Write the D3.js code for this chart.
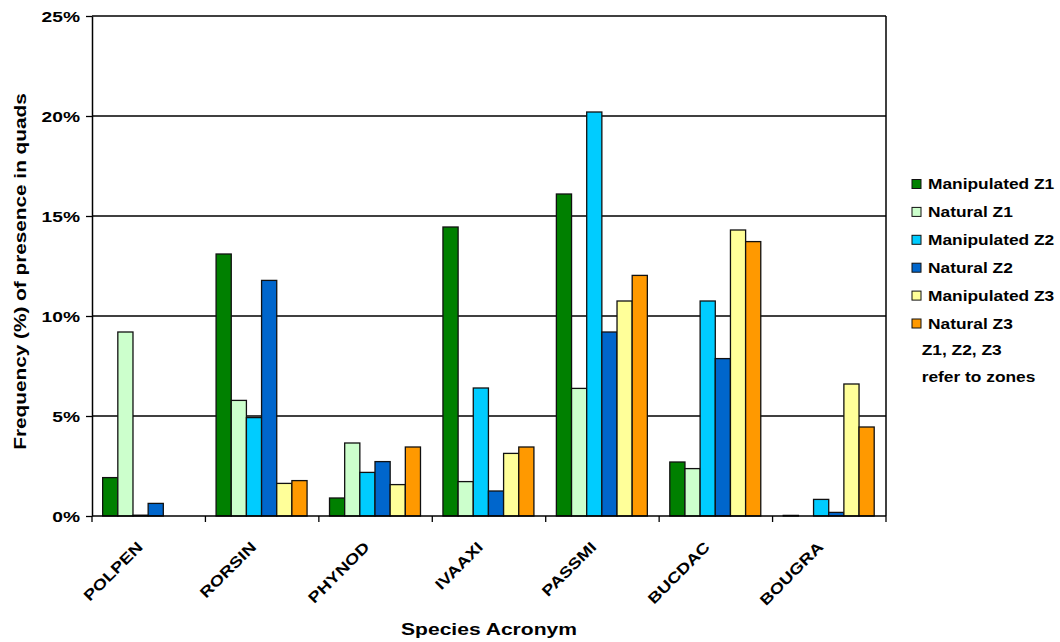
<!DOCTYPE html>
<html>
<head>
<meta charset="utf-8">
<script src="https://cdn.jsdelivr.net/npm/d3@7"></script>
<style>
  html, body { margin: 0; padding: 0; background: #fff; }
  svg { display: block; font-family: "Liberation Sans", Arial, sans-serif; font-weight: bold; }
</style>
</head>
<body>
<svg id="chart" width="1060" height="642"></svg>
<script>
// Species (x categories)
const species = ["POLPEN", "RORSIN", "PHYNOD", "IVAAXI", "PASSMI", "BUCDAC", "BOUGRA"];

// Series names and fills
const seriesNames = ["Manipulated Z1", "Natural Z1", "Manipulated Z2", "Natural Z2", "Manipulated Z3", "Natural Z3"];
const seriesColors = ["#008000", "#CCFFCC", "#00CCFF", "#0066CC", "#FFFF99", "#FF9900"];

// Frequency (%) of presence in quads, one array per series, in species order
const manipulatedZ1 = [1.92, 13.10, 0.90, 14.45, 16.10, 2.70, 0.03];
const naturalZ1     = [9.20, 5.78, 3.65, 1.72, 6.38, 2.37, 0.00];
const manipulatedZ2 = [0.04, 4.92, 2.18, 6.40, 20.20, 10.75, 0.83];
const naturalZ2     = [0.63, 11.78, 2.72, 1.25, 9.20, 7.87, 0.18];
const manipulatedZ3 = [0.00, 1.63, 1.57, 3.13, 10.75, 14.30, 6.60];
const naturalZ3     = [0.00, 1.77, 3.45, 3.45, 12.03, 13.72, 4.45];

const seriesValues = [manipulatedZ1, naturalZ1, manipulatedZ2, naturalZ2, manipulatedZ3, naturalZ3];

// Axis ticks
const yTicks = [0, 5, 10, 15, 20, 25];

// Text is drawn slightly widened, like the original chart's lettering
const WIDEN = 1.24;

const svg = d3.select("#chart");
const plot = { left: 92, right: 886, top: 16, bottom: 516 };

const x = d3.scaleBand().domain(species).range([plot.left, plot.right]).padding(0);
const bw = x.bandwidth();
const xs = d3.scaleBand().domain(seriesNames).range([bw * 0.094, bw * 0.896]).padding(0);
const y = d3.scaleLinear().domain([0, 25]).range([plot.bottom, plot.top]);

// Horizontal gridlines
svg.append("g")
  .selectAll("line")
  .data(yTicks.filter(d => d > 0))
  .join("line")
  .attr("x1", plot.left).attr("x2", plot.right)
  .attr("y1", d => y(d)).attr("y2", d => y(d))
  .attr("stroke", "#000").attr("stroke-width", 1.3);

// Right border of the plot area
svg.append("line")
  .attr("x1", plot.right).attr("x2", plot.right)
  .attr("y1", plot.top).attr("y2", plot.bottom)
  .attr("stroke", "#000").attr("stroke-width", 1.5);

// Bars
const groups = svg.append("g")
  .selectAll("g")
  .data(seriesNames)
  .join("g")
  .attr("fill", (d, i) => seriesColors[i]);

groups.selectAll("rect")
  .data((name, i) => species.map((sp, j) => ({ sp, name, v: seriesValues[i][j] })))
  .join("rect")
  .attr("x", d => x(d.sp) + xs(d.name))
  .attr("width", xs.bandwidth())
  .attr("y", d => y(d.v))
  .attr("height", d => y(0) - y(d.v))
  .attr("stroke", "#111")
  .attr("stroke-width", 1.3);

// Y axis
const yAxis = svg.append("g")
  .attr("transform", `translate(${plot.left},0)`)
  .call(d3.axisLeft(y).tickValues(yTicks).tickFormat(d => d + "%").tickSize(6).tickSizeOuter(0));
yAxis.select(".domain").attr("stroke", "#000").attr("stroke-width", 1.5);
yAxis.selectAll(".tick line").attr("stroke", "#000").attr("stroke-width", 1.3);
yAxis.selectAll(".tick text")
  .attr("x", 0)
  .attr("dy", "0.36em")
  .attr("transform", `translate(-12,0) scale(${WIDEN},1)`)
  .attr("font-size", 15.5).attr("font-weight", "bold")
  .attr("font-family", "Liberation Sans, Arial, sans-serif")
  .attr("fill", "#000");

// X axis (ticks on category boundaries)
const xAxis = svg.append("g")
  .attr("transform", `translate(0,${plot.bottom})`);
xAxis.append("line")
  .attr("x1", plot.left).attr("x2", plot.right)
  .attr("y1", 0).attr("y2", 0)
  .attr("stroke", "#000").attr("stroke-width", 1.5);
const boundaries = species.map(s => x(s)).concat([plot.right]);
xAxis.selectAll("line.tk")
  .data(boundaries)
  .join("line")
  .attr("class", "tk")
  .attr("x1", d => d).attr("x2", d => d)
  .attr("y1", 0).attr("y2", 6)
  .attr("stroke", "#000").attr("stroke-width", 1.3);
xAxis.selectAll("text")
  .data(species)
  .join("text")
  .attr("transform", d => `translate(${x(d) + bw / 2 - 5},32) rotate(-45) scale(${WIDEN},1)`)
  .attr("text-anchor", "end")
  .attr("font-size", 15).attr("font-weight", "bold")
  .attr("fill", "#000")
  .text(d => d);

// Axis titles
svg.append("text")
  .attr("transform", `translate(26,271.5) rotate(-90) scale(${WIDEN * 0.985},1)`)
  .attr("text-anchor", "middle")
  .attr("font-size", 17).attr("font-weight", "bold")
  .text("Frequency (%) of presence in quads");

svg.append("text")
  .attr("transform", `translate(${(plot.left + plot.right) / 2},635) scale(${WIDEN},1)`)
  .attr("text-anchor", "middle")
  .attr("font-size", 17).attr("font-weight", "bold")
  .text("Species Acronym");

// Legend
const legend = svg.append("g").attr("transform", "translate(912,184)");
const rowH = 27.9;
const items = legend.selectAll("g")
  .data(seriesNames)
  .join("g")
  .attr("transform", (d, i) => `translate(0,${i * rowH})`);
items.append("rect")
  .attr("x", 0).attr("y", -4.5)
  .attr("width", 9).attr("height", 9)
  .attr("fill", (d, i) => seriesColors[i])
  .attr("stroke", "#111").attr("stroke-width", 1);
items.append("text")
  .attr("transform", `translate(16,5) scale(${WIDEN},1)`)
  .attr("font-size", 14).attr("font-weight", "bold")
  .text(d => d);

legend.append("text")
  .attr("transform", `translate(9.7,${6 * rowH + 4}) scale(${WIDEN},1)`)
  .attr("font-size", 14).attr("font-weight", "bold")
  .text("Z1, Z2, Z3");
legend.append("text")
  .attr("transform", `translate(9.7,${6 * rowH + 31}) scale(${WIDEN},1)`)
  .attr("font-size", 14).attr("font-weight", "bold")
  .text("refer to zones");
</script>
</body>
</html>
